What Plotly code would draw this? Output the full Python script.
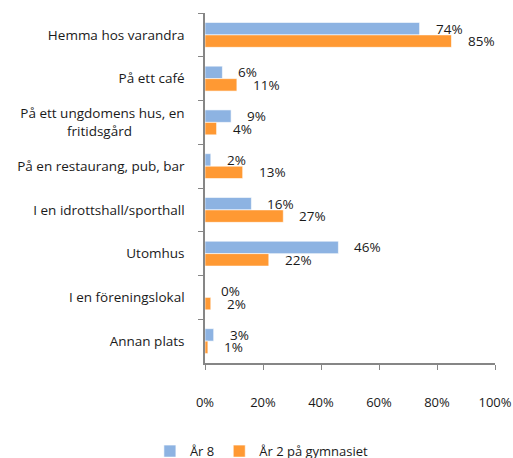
import plotly.graph_objects as go

categories = [
    "Hemma hos varandra",
    "På ett café",
    "På ett ungdomens hus, en<br>fritidsgård" + "\u00a0" * 15,
    "På en restaurang, pub, bar",
    "I en idrottshall/sporthall",
    "Utomhus",
    "I en föreningslokal",
    "Annan plats",
]
ar8 = [74, 6, 9, 2, 16, 46, 0, 3]
ar2_gym = [85, 11, 4, 13, 27, 22, 2, 1]
series_names = ["År 8", "År 2 på gymnasiet"]
colors = ["#8DB3E2", "#FF9933"]
x_ticks = [0, 20, 40, 60, 80, 100]
x_tick_labels = ["0%", "20%", "40%", "60%", "80%", "100%"]

FONT = "'Open Sans', Lato, sans-serif"

fig = go.Figure()
for name, vals, col, ysh in zip(series_names, [ar8, ar2_gym], colors, [6.2, -6.2]):
    fig.add_trace(go.Bar(
        y=categories, x=vals, name=name, orientation="h",
        marker=dict(color=col, line=dict(color="rgba(255,255,255,0.6)", width=1)),
        cliponaxis=False,
    ))
    for cat, v in zip(categories, vals):
        fig.add_annotation(x=v, y=cat, text=f"{v}%", showarrow=False,
                           xanchor="left", yanchor="middle", xshift=14, yshift=ysh,
                           font=dict(size=13.5, color="#1a1a1a"))

fig.update_layout(
    width=513, height=458,
    margin=dict(l=205, r=18, t=13, b=95),
    barmode="group", bargap=0.43, bargroupgap=0,
    plot_bgcolor="white", paper_bgcolor="white",
    font=dict(family=FONT, size=13, color="#1a1a1a"),
    showlegend=True,
    legend=dict(orientation="h", x=-0.19, xanchor="left",
                yref="container", y=0.015, yanchor="middle",
                font=dict(size=13), traceorder="normal", itemwidth=30,
                tracegroupgap=0),
    xaxis=dict(range=[0, 100], tickvals=x_ticks, ticktext=x_tick_labels, showgrid=False,
               showline=True, linecolor="#868686", linewidth=1.5,
               ticks="outside", ticklen=5, tickcolor="#868686",
               ticklabelstandoff=22, zeroline=False, automargin=False,
               tickfont=dict(size=13)),
    yaxis=dict(autorange="reversed", showgrid=False, showline=True,
               linecolor="#868686", linewidth=1.5, ticks="outside", ticklen=5,
               tickcolor="#868686", tickson="boundaries", ticklabelstandoff=16,
               automargin=False, tickfont=dict(size=13.5)),
)

fig.write_html("out.html", config={"displayModeBar": False},
               post_script="document.body.style.margin='0';")
